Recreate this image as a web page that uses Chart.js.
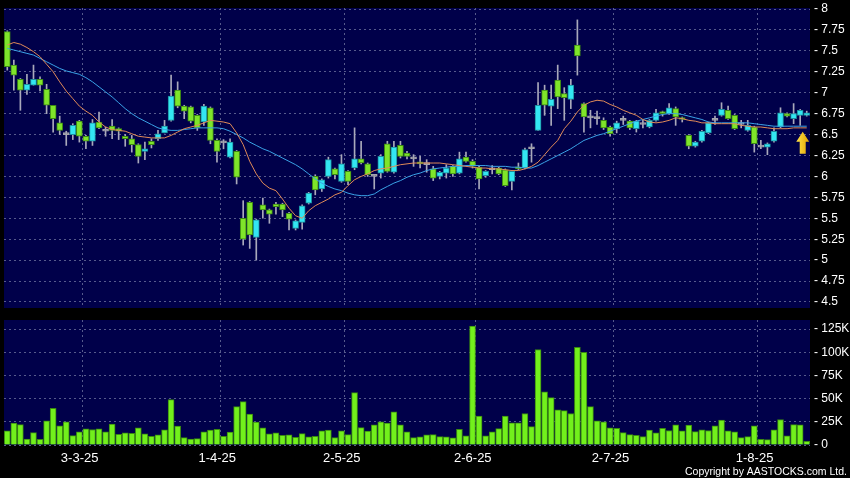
<!DOCTYPE html>
<html>
<head>
<meta charset="utf-8">
<script src="https://cdn.jsdelivr.net/npm/chart.js@4.4.1/dist/chart.umd.min.js"></script>
<style>
  html, body { margin: 0; padding: 0; background: #000; }
  #wrap { position: relative; width: 850px; height: 478px; background: #000; overflow: hidden; }
  #priceBox { position: absolute; left: 0; top: 0; width: 850px; height: 312px; }
  #volBox { position: absolute; left: 0; top: 312px; width: 850px; height: 166px; }
</style>
</head>
<body>
<div id="wrap">
  <div id="priceBox"><canvas id="priceChart" width="850" height="312"></canvas></div>
  <div id="volBox"><canvas id="volChart" width="850" height="166"></canvas></div>
</div>
<script>
// trading days, d-m-yy
let dates = [
  '13-2-25','14-2-25','17-2-25','18-2-25','19-2-25','20-2-25','21-2-25','24-2-25','25-2-25','26-2-25','27-2-25','28-2-25',
  '3-3-25','4-3-25','5-3-25','6-3-25','7-3-25','10-3-25','11-3-25','12-3-25','13-3-25','14-3-25','17-3-25','18-3-25',
  '19-3-25','20-3-25','21-3-25','24-3-25','25-3-25','26-3-25','27-3-25','28-3-25','31-3-25',
  '1-4-25','2-4-25','3-4-25','7-4-25','8-4-25','9-4-25','10-4-25','11-4-25','14-4-25','15-4-25','16-4-25','17-4-25',
  '22-4-25','23-4-25','24-4-25','25-4-25','28-4-25','29-4-25','30-4-25',
  '2-5-25','6-5-25','7-5-25','8-5-25','9-5-25','12-5-25','13-5-25','14-5-25','15-5-25','16-5-25','19-5-25','20-5-25',
  '21-5-25','22-5-25','23-5-25','26-5-25','27-5-25','28-5-25','29-5-25','30-5-25',
  '2-6-25','3-6-25','4-6-25','5-6-25','6-6-25','9-6-25','10-6-25','11-6-25','12-6-25','13-6-25','16-6-25','17-6-25',
  '18-6-25','19-6-25','20-6-25','23-6-25','24-6-25','25-6-25','26-6-25','27-6-25','30-6-25',
  '2-7-25','3-7-25','4-7-25','7-7-25','8-7-25','9-7-25','10-7-25','11-7-25','14-7-25','15-7-25','16-7-25','17-7-25',
  '18-7-25','21-7-25','22-7-25','23-7-25','24-7-25','25-7-25','28-7-25','29-7-25','30-7-25','31-7-25',
  '1-8-25','4-8-25','5-8-25','6-8-25','7-8-25','8-8-25','11-8-25','12-8-25'
];

let open = [
  7.73,7.33,7.16,7.03,7.09,7.16,7.04,6.85,6.64,6.50,6.50,6.66,6.48,6.42,6.65,6.54,6.60,6.57,6.48,6.45,
  6.38,6.30,6.42,6.45,6.52,6.67,7.03,6.84,6.83,6.73,6.65,6.82,6.43,6.40,6.23,6.30,5.50,5.69,5.27,5.66,
  5.60,5.67,5.67,5.56,5.38,5.45,5.68,6.00,5.85,6.00,6.09,5.94,6.06,6.10,6.21,6.15,6.00,6.04,6.39,6.05,
  6.37,6.28,6.21,6.17,6.14,6.09,6.00,6.04,6.12,6.04,6.23,6.18,6.11,6.01,6.08,6.10,6.08,5.94,6.11,6.10,
  6.33,6.55,7.03,6.84,7.15,6.99,6.92,7.57,6.87,6.70,6.69,6.67,6.59,6.57,6.67,6.66,6.57,6.62,6.59,6.67,
  6.77,6.75,6.81,6.70,6.49,6.36,6.42,6.52,6.67,6.73,6.79,6.73,6.62,6.55,6.59,6.35,6.35,6.42,6.59,6.75,
  6.69,6.73,6.73
];
let high = [
  7.74,7.39,7.17,7.22,7.33,7.19,7.10,6.85,6.72,6.54,6.63,6.67,6.49,6.68,6.77,6.59,6.68,6.58,6.50,6.49,
  6.39,6.41,6.45,6.55,6.67,7.21,7.13,6.85,6.84,6.74,6.86,6.83,6.45,6.44,6.45,6.31,5.71,5.70,5.49,5.74,
  5.61,5.69,5.68,5.57,5.48,5.66,5.81,6.02,5.97,6.23,6.10,6.26,6.07,6.58,6.42,6.16,6.01,6.26,6.42,6.42,
  6.42,6.30,6.26,6.24,6.20,6.12,6.06,6.14,6.13,6.29,6.29,6.20,6.12,6.07,6.13,6.11,6.09,6.07,6.16,6.34,
  6.39,7.12,7.09,7.09,7.33,7.06,7.16,7.87,6.88,6.79,6.78,6.70,6.60,6.66,6.72,6.67,6.67,6.67,6.68,6.80,
  6.78,6.87,6.83,6.71,6.50,6.42,6.55,6.65,6.72,6.88,6.84,6.74,6.67,6.67,6.60,6.43,6.40,6.58,6.82,6.76,
  6.87,6.80,6.78
];
let low = [
  7.27,7.03,6.79,6.98,7.09,7.02,6.75,6.53,6.50,6.37,6.44,6.41,6.33,6.37,6.57,6.48,6.45,6.44,6.36,6.29,
  6.16,6.20,6.34,6.43,6.52,6.66,6.82,6.69,6.64,6.55,6.61,6.39,6.17,6.33,6.22,5.91,5.18,5.14,5.00,5.50,
  5.44,5.55,5.52,5.36,5.36,5.37,5.67,5.78,5.82,5.98,5.97,5.93,5.90,6.08,6.15,6.00,5.85,5.98,6.05,6.04,
  6.22,6.21,6.12,6.10,6.05,5.95,5.97,5.98,6.00,6.03,6.17,6.10,5.85,5.99,6.03,6.02,5.88,5.84,6.08,6.09,
  6.17,6.55,6.73,6.61,6.81,6.67,6.81,7.21,6.53,6.58,6.62,6.56,6.48,6.52,6.62,6.56,6.53,6.58,6.58,6.66,
  6.72,6.74,6.61,6.65,6.33,6.35,6.41,6.51,6.62,6.72,6.68,6.56,6.58,6.54,6.29,6.33,6.26,6.41,6.58,6.71,
  6.63,6.61,6.72
];
let close = [
  7.31,7.21,7.03,7.10,7.16,7.09,6.85,6.69,6.55,6.50,6.61,6.48,6.42,6.64,6.58,6.54,6.55,6.54,6.45,6.38,
  6.24,6.33,6.38,6.51,6.60,6.96,6.84,6.78,6.66,6.58,6.84,6.43,6.30,6.40,6.41,5.99,5.25,5.30,5.48,5.60,
  5.55,5.64,5.60,5.49,5.47,5.65,5.80,5.84,5.96,6.20,6.02,6.15,5.94,6.21,6.16,6.02,6.00,6.24,6.06,6.35,
  6.24,6.24,6.21,6.15,6.14,5.98,6.05,6.10,6.03,6.21,6.18,6.12,5.97,6.06,6.08,6.03,5.89,6.06,6.09,6.32,
  6.33,6.85,6.85,6.92,6.95,6.94,7.09,7.44,6.71,6.70,6.69,6.58,6.51,6.64,6.67,6.58,6.66,6.62,6.67,6.76,
  6.75,6.82,6.71,6.68,6.36,6.41,6.54,6.64,6.67,6.80,6.69,6.57,6.62,6.61,6.39,6.35,6.39,6.54,6.76,6.72,
  6.75,6.79,6.76
];
// moving averages as drawn on the chart (orange = short, blue = long)
let maShort = [
  7.57,7.60,7.58,7.54,7.49,7.43,7.34,7.25,7.13,7.02,6.93,6.84,6.78,6.73,6.65,6.59,6.56,6.55,6.54,6.51,
  6.48,6.47,6.46,6.46,6.46,6.49,6.53,6.57,6.59,6.61,6.64,6.67,6.66,6.65,6.63,6.52,6.38,6.18,6.03,5.92,
  5.86,5.83,5.73,5.62,5.53,5.50,5.59,5.65,5.69,5.73,5.78,5.81,5.89,5.96,6.00,6.03,6.07,6.09,6.10,6.12,
  6.14,6.15,6.16,6.16,6.16,6.16,6.16,6.15,6.14,6.13,6.12,6.11,6.10,6.10,6.09,6.09,6.08,6.07,6.07,6.09,
  6.12,6.17,6.26,6.35,6.43,6.57,6.66,6.77,6.85,6.89,6.91,6.90,6.86,6.83,6.79,6.76,6.73,6.68,6.65,6.64,
  6.65,6.67,6.70,6.69,6.67,6.66,6.64,6.64,6.63,6.63,6.63,6.63,6.61,6.60,6.59,6.59,6.58,6.57,6.57,6.57,
  6.58,6.58,6.58
];
let maLong = [
  7.53,7.51,7.49,7.47,7.45,7.41,7.37,7.33,7.29,7.26,7.24,7.22,7.18,7.13,7.07,7.01,6.95,6.88,6.81,6.75,
  6.70,6.66,6.62,6.58,6.56,6.55,6.55,6.56,6.57,6.58,6.58,6.58,6.58,6.57,6.54,6.50,6.46,6.41,6.37,6.33,
  6.30,6.26,6.22,6.18,6.14,6.09,6.03,5.97,5.92,5.88,5.85,5.83,5.80,5.78,5.77,5.77,5.79,5.84,5.88,5.92,
  5.95,5.99,6.02,6.04,6.07,6.09,6.10,6.11,6.12,6.12,6.13,6.13,6.13,6.13,6.12,6.12,6.12,6.11,6.11,6.10,
  6.10,6.13,6.17,6.21,6.25,6.29,6.33,6.38,6.43,6.46,6.49,6.51,6.54,6.57,6.60,6.63,6.66,6.68,6.70,6.72,
  6.74,6.75,6.75,6.74,6.72,6.70,6.68,6.65,6.64,6.64,6.64,6.64,6.64,6.64,6.63,6.62,6.61,6.60,6.60,6.60,
  6.60,6.60,6.60
];
let volume = [
  15200,23600,22000,6500,13400,6200,26000,39500,20600,25000,10100,14100,17400,16700,17400,14100,22500,11600,13000,12700,
  18500,12000,9400,10900,16300,48900,20300,8000,6500,6900,14100,16000,17000,9400,13800,41300,46700,33300,24700,18500,
  12000,13000,10500,10900,8300,12300,8700,9400,15200,16000,8000,15200,11200,56500,18800,14900,21700,25000,23600,35900,
  21700,14100,8000,8700,10900,11200,9000,8700,7600,17000,9800,128300,31200,9800,14100,17700,31200,23900,23900,34000,
  19900,103000,57300,51100,38000,37000,34000,105400,100000,41300,26000,25000,18500,18100,13400,11200,10500,9000,16000,13000,
  18100,15600,21700,15200,21400,14500,16300,15600,20600,26800,15200,14100,8000,9000,20600,6200,5800,16300,27500,9800,
  22000,21700,4000
];
let priceTicks = [4.5, 4.75, 5, 5.25, 5.5, 5.75, 6, 6.25, 6.5, 6.75, 7, 7.25, 7.5, 7.75, 8];
let volTicks = [0, 25000, 50000, 75000, 100000, 125000];

const n = dates.length;
const idx = dates.map((d, i) => i);

// month boundaries -> vertical grid lines and date labels
const gridAt = [];
const gridLabel = [];
for (let i = 1; i < n; i++) {
  if (dates[i].split('-')[1] !== dates[i - 1].split('-')[1]) {
    gridAt.push(i - 0.5);
    gridLabel.push(dates[i]);
  }
}

const plotBg = '#00004a';
const gridColor = '#565a8c';
const upFill = '#33e6f2', upLine = '#1b8f9e';
const downFill = '#7fe52a', downLine = '#3d8a14';
const flatFill = '#a4a4ac';
const wickColor = '#a9a9bb';
const tickFont = { family: "'Liberation Sans', Arial, sans-serif", size: 12 };

function candleFill(i) {
  if (close[i] > open[i]) return upFill;
  if (close[i] < open[i]) return downFill;
  return flatFill;
}
function candleLine(i) {
  if (close[i] > open[i]) return upLine;
  if (close[i] < open[i]) return downLine;
  return flatFill;
}

function noPad(s) {
  s.paddingTop = 0;
  s.paddingBottom = 0;
  s.paddingLeft = 0;
  s.paddingRight = 0;
}

const areaBg = {
  id: 'areaBg',
  beforeDraw(chart) {
    const a = chart.chartArea;
    const ctx = chart.ctx;
    ctx.save();
    ctx.fillStyle = plotBg;
    ctx.fillRect(a.left, a.top, a.right - a.left, a.bottom - a.top);
    ctx.restore();
  }
};

// yellow up arrow under the last bar
const lastArrow = {
  id: 'lastArrow',
  afterDatasetsDraw(chart) {
    const ctx = chart.ctx;
    const xs = chart.scales.x, ys = chart.scales.y;
    const cx = xs.getPixelForValue(n - 1) - 4;
    const tip = ys.getPixelForValue(maShort[n - 1]) + 4;
    const headH = 10, headW = 6.5, shaftW = 3, len = 22;
    const g = ctx.createLinearGradient(cx - headW, 0, cx + headW, 0);
    g.addColorStop(0, '#ffe24a');
    g.addColorStop(1, '#e2a400');
    ctx.save();
    ctx.beginPath();
    ctx.moveTo(cx, tip);
    ctx.lineTo(cx + headW, tip + headH);
    ctx.lineTo(cx + shaftW, tip + headH);
    ctx.lineTo(cx + shaftW, tip + len);
    ctx.lineTo(cx - shaftW, tip + len);
    ctx.lineTo(cx - shaftW, tip + headH);
    ctx.lineTo(cx - headW, tip + headH);
    ctx.closePath();
    ctx.fillStyle = g;
    ctx.fill();
    ctx.restore();
  }
};

const copyright = {
  id: 'copyright',
  afterDraw(chart) {
    const ctx = chart.ctx;
    const txt = 'Copyright by AASTOCKS.com Ltd.';
    ctx.save();
    ctx.font = "12.5px 'Liberation Sans Narrow'";
    if (ctx.measureText(txt).width > 172) ctx.font = "10.5px 'Liberation Sans', Arial, sans-serif";
    ctx.fillStyle = '#ffffff';
    ctx.textAlign = 'right';
    ctx.textBaseline = 'alphabetic';
    ctx.fillText(txt, 847, 163);
    ctx.restore();
  }
};

function xAxis(showLabels, height) {
  return {
    type: 'linear',
    min: -0.5,
    max: n - 0.5,
    offset: false,
    afterBuildTicks: s => { s.ticks = gridAt.map(v => ({ value: v })); },
    afterFit: s => { s.height = height; noPad(s); },
    grid: { color: gridColor, drawTicks: false, offset: false },
    border: { display: false, dash: [2, 3] },
    ticks: {
      display: showLabels,
      autoSkip: false,
      maxRotation: 0,
      padding: 6,
      labelOffset: -3,
      color: '#ffffff',
      font: { family: "'Liberation Sans', Arial, sans-serif", size: 13 },
      callback: v => gridLabel[gridAt.indexOf(v)]
    }
  };
}

function yAxis(min, max, tickList, fmt) {
  return {
    position: 'right',
    min: min,
    max: max,
    afterBuildTicks: s => { s.ticks = tickList.map(v => ({ value: v })); },
    afterFit: s => { s.width = 40; noPad(s); },
    grid: { color: gridColor, drawTicks: false },
    border: { display: false, dash: [2, 3] },
    ticks: { color: '#ffffff', font: tickFont, padding: 4, callback: fmt }
  };
}

new Chart(document.getElementById('priceChart'), {
  type: 'bar',
  data: {
    datasets: [
      {
        type: 'line',
        data: idx.map(i => ({ x: i, y: maShort[i] })),
        borderColor: '#e08a58',
        borderWidth: 1,
        pointRadius: 0,
        order: 0
      },
      {
        type: 'line',
        data: idx.map(i => ({ x: i, y: maLong[i] })),
        borderColor: '#3aa2e6',
        borderWidth: 1,
        pointRadius: 0,
        order: 0
      },
      {
        data: idx.map(i => ({ x: i, y: [open[i], close[i]] })),
        backgroundColor: idx.map(candleFill),
        borderColor: idx.map(candleLine),
        borderWidth: 1,
        borderSkipped: false,
        barThickness: 6,
        minBarLength: 2,
        grouped: false,
        order: 1
      },
      {
        data: idx.map(i => ({ x: i, y: [low[i], high[i]] })),
        backgroundColor: wickColor,
        borderWidth: 0,
        barThickness: 1,
        grouped: false,
        order: 2
      }
    ]
  },
  options: {
    responsive: false,
    animation: false,
    layout: { padding: { left: 4, top: 8, bottom: 4, right: 0 } },
    plugins: { legend: { display: false }, tooltip: { enabled: false } },
    scales: {
      x: xAxis(false, 0),
      y: yAxis(4.428, 8.012, priceTicks, v => '- ' + v)
    }
  },
  plugins: [areaBg, lastArrow]
});

new Chart(document.getElementById('volChart'), {
  type: 'bar',
  data: {
    datasets: [{
      data: idx.map(i => ({ x: i, y: volume[i] })),
      backgroundColor: '#72f01c',
      borderColor: '#3a8a10',
      borderWidth: 1,
      barThickness: 6
    }]
  },
  options: {
    responsive: false,
    animation: false,
    layout: { padding: { left: 4, top: 8, bottom: 0, right: 0 } },
    plugins: { legend: { display: false }, tooltip: { enabled: false } },
    scales: {
      x: xAxis(true, 33),
      y: yAxis(0, 134800, volTicks, v => '- ' + (v === 0 ? '0' : (v / 1000) + 'K'))
    }
  },
  plugins: [areaBg, copyright]
});
</script>
</body>
</html>
